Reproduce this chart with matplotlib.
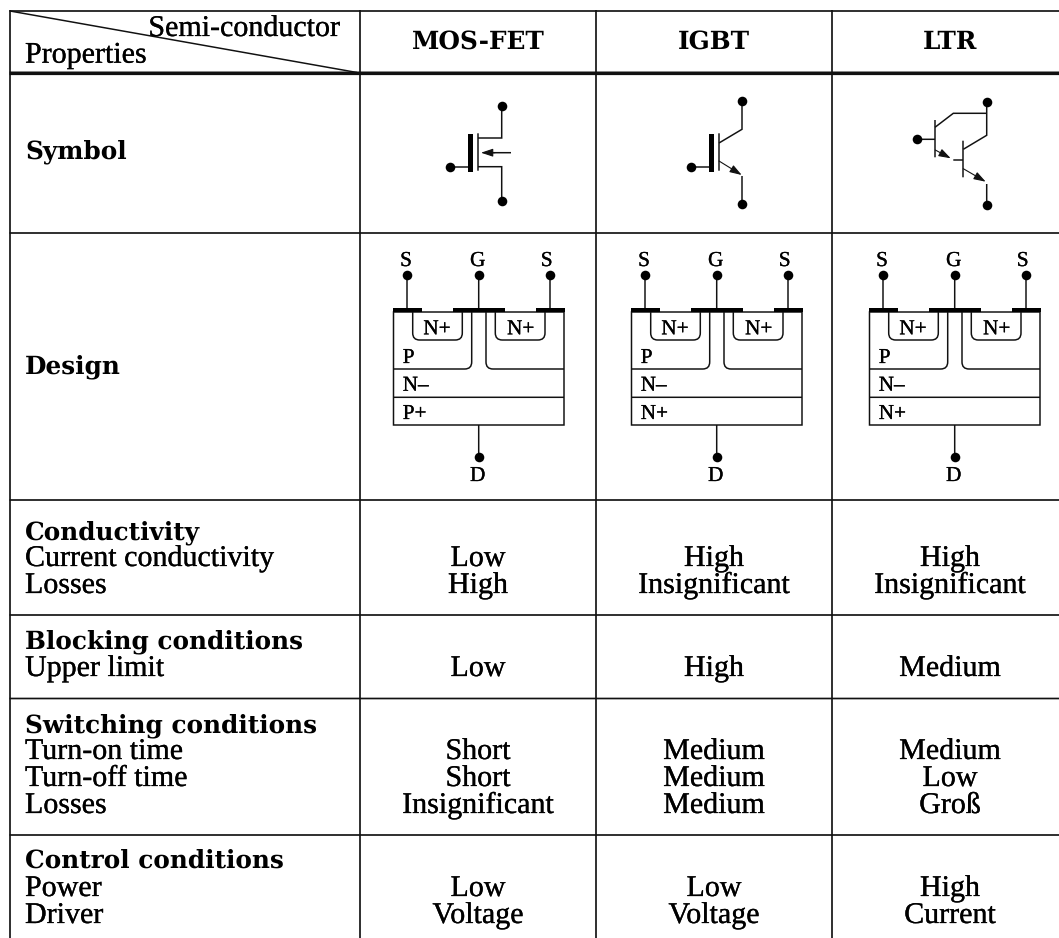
import matplotlib
matplotlib.use('Agg')
import matplotlib.pyplot as plt
import matplotlib.patheffects as pe
from matplotlib.path import Path
from matplotlib.patches import PathPatch, Rectangle

plt.rcParams['text.hinting'] = 'none'

SERIF = 'Liberation Serif'
BOLD = 'DejaVu Serif'

# table contents
columnNames = ['MOS-FET', 'IGBT', 'LTR']
headerLeft = 'Properties'
headerRight = 'Semi-conductor'
bottomLayers = ['P+', 'N+', 'N+']
bottomLayerOthers = ['P', 'N–']

propertyRows = ['Conductivity', 'Current conductivity', 'Losses',
                'Blocking conditions', 'Upper limit',
                'Switching conditions', 'Turn-on time', 'Turn-off time', 'Losses',
                'Control conditions', 'Power', 'Driver']
boldRows = ['Symbol', 'Design', 'Conductivity', 'Blocking conditions',
            'Switching conditions', 'Control conditions']
mosfetValues = ['Low', 'High', 'Low', 'Short', 'Short', 'Insignificant', 'Low', 'Voltage']
igbtValues = ['High', 'Insignificant', 'High', 'Medium', 'Medium', 'Medium', 'Low', 'Voltage']
ltrValues = ['High', 'Insignificant', 'Medium', 'Medium', 'Low', 'Groß', 'High', 'Current']

# layout in pixels of the image
rowLines = [11, 233, 500, 615, 698.5, 835]
colLines = [10, 360, 596, 832]
colCentres = [478, 714, 950]
designOffsets = [0, 238, 476]
rowBaselines = [539, 566, 593, 648, 676, 732, 759, 786, 813, 868, 896, 923]
valueBaselines = [566, 593, 676, 759, 786, 813, 896, 923]

PX = 0.72  # one image pixel in points at dpi 100
REG_SIZE = 21.6
BOLD_SIZE = 17.8
SMALL_SIZE = 15.3


def line(ax, xs, ys, width=1.5):
    l, = ax.plot(xs, ys, color='#111111', lw=width * PX, solid_capstyle='butt', solid_joinstyle='miter')
    l.set_snap(False)


def dot(ax, x, y):
    ax.plot([x], [y], 'o', color='black', ms=9.6 * PX, mew=0, zorder=4)


def arrow(ax, x0, y0, x1, y1):
    ax.annotate('', xy=(x1, y1), xytext=(x0, y0),
                arrowprops=dict(arrowstyle='-|>,head_length=0.72,head_width=0.24', color='#111111',
                                lw=1.1 * PX, shrinkA=0, shrinkB=0, mutation_scale=10))


def curve(ax, verts):
    # straight runs joined by quadratic bends
    codes = [Path.MOVETO] + [Path.LINETO, Path.CURVE3, Path.CURVE3] * ((len(verts) - 2) // 3) + [Path.LINETO]
    ax.add_patch(PathPatch(Path(verts, codes), fc='none', ec='#111111', lw=1.5 * PX, snap=False))


def txt(ax, x, y, s, ha='left', size=REG_SIZE):
    t = ax.text(x, y, s, ha=ha, va='baseline', family=SERIF, fontsize=size, color='black')
    t.set_path_effects([pe.withStroke(linewidth=0.2, foreground='black')])


def boldTxt(ax, x, y, s, ha='left'):
    ax.text(x, y, s, ha=ha, va='baseline', family=BOLD, weight='bold', fontsize=BOLD_SIZE, color='black')


def drawDesign(ax, dx, layer):
    for x, lab, tx in [(407, 'S', 406), (478.7, 'G', 477.7), (550, 'S', 546.7)]:
        line(ax, [x + dx, x + dx], [275, 308])
        dot(ax, x + dx, 275)
        txt(ax, tx + dx, 266, lab, 'center', SMALL_SIZE)

    # pads on top
    for x0, x1 in [(393, 422), (453, 505), (536, 565)]:
        ax.add_patch(Rectangle((x0 + dx, 308), x1 - x0, 4.5, fc='black', ec='none', zorder=3))

    # outer block and layers
    ax.add_patch(Rectangle((393.5 + dx, 312), 170.5, 113, fc='none', ec='#111111', lw=1.5 * PX, snap=False))
    line(ax, [393.5 + dx, 564 + dx], [397.3, 397.3])

    # wells
    curve(ax, [(412.7 + dx, 312), (412.7 + dx, 333), (412.7 + dx, 340), (419.7 + dx, 340),
               (455.3 + dx, 340), (462.3 + dx, 340), (462.3 + dx, 333), (462.3 + dx, 312)])
    curve(ax, [(495.3 + dx, 312), (495.3 + dx, 333), (495.3 + dx, 340), (502.3 + dx, 340),
               (538 + dx, 340), (545 + dx, 340), (545 + dx, 333), (545 + dx, 312)])
    curve(ax, [(471.7 + dx, 312), (471.7 + dx, 362), (471.7 + dx, 369), (464.7 + dx, 369), (393.5 + dx, 369)])
    curve(ax, [(486 + dx, 312), (486 + dx, 362), (486 + dx, 369), (493 + dx, 369), (564 + dx, 369)])

    txt(ax, 437 + dx, 334.3, 'N+', 'center', SMALL_SIZE)
    txt(ax, 520.7 + dx, 334.3, 'N+', 'center', SMALL_SIZE)
    for lab, y in zip(bottomLayerOthers + [layer], [363, 390.7, 419]):
        txt(ax, 402.7 + dx, y, lab, 'left', SMALL_SIZE)

    line(ax, [478.7 + dx, 478.7 + dx], [425, 457])
    dot(ax, 478.7 + dx, 457)
    txt(ax, 477.7 + dx, 481, 'D', 'center', SMALL_SIZE)


def drawMosfet(ax):
    dot(ax, 501.7, 106)
    dot(ax, 501.7, 200.7)
    dot(ax, 450.3, 167.3)
    line(ax, [450.3, 468], [167, 167])
    ax.add_patch(Rectangle((468, 134), 4.7, 37.7, fc='black', ec='none'))
    line(ax, [478, 478], [133.3, 170.7])
    line(ax, [478, 501.7, 501.7], [138, 138, 106])
    line(ax, [478, 501.7, 501.7], [166.7, 166.7, 200])
    line(ax, [511, 488], [152.7, 152.7])
    arrow(ax, 495, 152.7, 481, 152.7)


def drawIgbt(ax):
    dot(ax, 691, 167.3)
    line(ax, [691, 709], [167, 167])
    ax.add_patch(Rectangle((709, 134), 4.7, 37.7, fc='black', ec='none'))
    line(ax, [719, 719], [133.3, 170.7])
    line(ax, [719, 742, 742], [143, 129.3, 100.7])
    dot(ax, 742, 100.7)
    arrow(ax, 719, 161, 741.7, 175)
    line(ax, [742, 742], [176, 204])
    dot(ax, 742, 204)


def drawLtr(ax):
    dot(ax, 917.3, 139.3)
    line(ax, [917.3, 935], [139.3, 139.3])
    line(ax, [935, 935], [120, 157.3])
    line(ax, [935, 953.3, 986.7], [127.3, 113.3, 113.3])
    line(ax, [986.7, 986.7, 963.3], [102.3, 135.3, 149.3])
    dot(ax, 986.7, 102.3)
    line(ax, [963, 963], [140.7, 177.3])
    line(ax, [953.3, 963], [160, 160])
    arrow(ax, 935.3, 150, 950.7, 158.3)
    arrow(ax, 963.3, 168.7, 985.7, 181.7)
    line(ax, [986.7, 986.7], [184, 205])
    dot(ax, 986.7, 205)


fig = plt.figure(figsize=(10.59, 9.38), dpi=100)
ax = fig.add_axes([0, 0, 1, 1])
ax.set_xlim(0, 1059)
ax.set_ylim(938, 0)
ax.axis('off')

# grid
for y in rowLines:
    line(ax, [9.5, 1059], [y, y], 1.7)
line(ax, [9.5, 1059], [73.3, 73.3], 3.6)
for x in colLines:
    line(ax, [x, x], [10, 938], 1.7)
line(ax, [10, 357], [11, 72.5], 1.5)

# header
txt(ax, 340, 36, headerRight, 'right')
txt(ax, 25, 62.7, headerLeft)
for x, name in zip(colCentres, columnNames):
    boldTxt(ax, x, 49, name, 'center')

# row labels
boldTxt(ax, 25, 158, 'Symbol')
boldTxt(ax, 25, 373, 'Design')
for y, label in zip(rowBaselines, propertyRows):
    if label in boldRows:
        boldTxt(ax, 25, y, label)
    else:
        txt(ax, 25, y, label)

# values
for x, values in zip(colCentres, [mosfetValues, igbtValues, ltrValues]):
    for y, v in zip(valueBaselines, values):
        txt(ax, x, y, v, 'center')

drawMosfet(ax)
drawIgbt(ax)
drawLtr(ax)
for dx, layer in zip(designOffsets, bottomLayers):
    drawDesign(ax, dx, layer)

fig.savefig('out.png', dpi=100, facecolor='white')
